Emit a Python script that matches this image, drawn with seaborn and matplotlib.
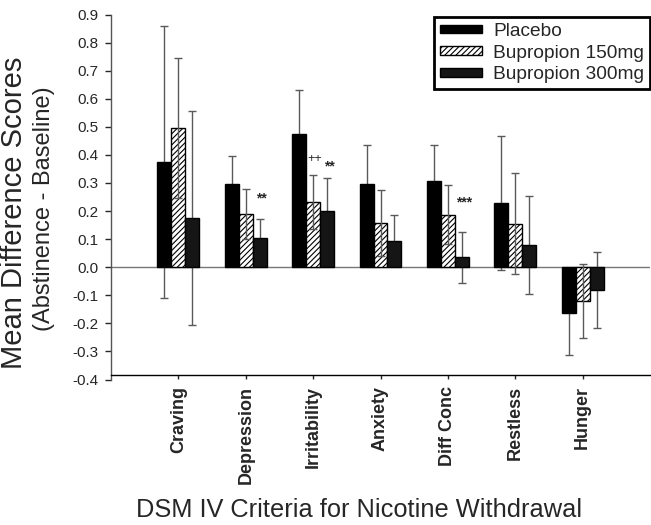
import numpy as np
import pandas as pd
import matplotlib
matplotlib.use('Agg')
import matplotlib.pyplot as plt
import seaborn as sns

# =============================
# Data
# =============================
categories = ['Craving', 'Depression', 'Irritability', 'Anxiety',
              'Diff Conc', 'Restless', 'Hunger']
groups = ['Placebo', 'Bupropion 150mg', 'Bupropion 300mg']

placebo = [0.375, 0.297, 0.475, 0.298, 0.308, 0.228, -0.162]
placebo_err = [0.485, 0.100, 0.157, 0.137, 0.127, 0.238, 0.150]
bup150 = [0.495, 0.190, 0.232, 0.157, 0.187, 0.155, -0.121]
bup150_err = [0.250, 0.090, 0.095, 0.118, 0.105, 0.180, 0.132]
bup300 = [0.175, 0.103, 0.200, 0.095, 0.035, 0.079, -0.082]
bup300_err = [0.380, 0.070, 0.118, 0.090, 0.090, 0.173, 0.135]

# significance marks: (category, group, label, y)
sig_cat = ['Depression', 'Irritability', 'Irritability', 'Diff Conc']
sig_group = ['Bupropion 300mg', 'Bupropion 150mg', 'Bupropion 300mg', 'Bupropion 300mg']
sig_label = ['**', '++', '**', '***']
sig_y = [0.22, 0.365, 0.335, 0.205]

df = pd.DataFrame({
    'criterion': categories * 3,
    'group': np.repeat(groups, len(categories)),
    'score': placebo + bup150 + bup300,
    'err': placebo_err + bup150_err + bup300_err,
})

# =============================
# Plot
# =============================
sns.set_style('white')
plt.rcParams['font.family'] = ['Liberation Sans', 'DejaVu Sans']
plt.rcParams['axes.unicode_minus'] = False
plt.rcParams['hatch.linewidth'] = 0.8

fig = plt.figure(figsize=(6.51, 5.25), dpi=100)
ax = fig.add_axes([111 / 651, 1 - 379.5 / 525, 539 / 651, 365 / 525])

palette = {'Placebo': '#000000', 'Bupropion 150mg': '#ffffff', 'Bupropion 300mg': '#151515'}
sns.barplot(data=df, x='criterion', y='score', hue='group', order=categories,
            hue_order=groups, palette=palette, errorbar=None, width=0.62,
            edgecolor='black', linewidth=1.0, ax=ax, saturation=1, zorder=2)

hatches = ['', '//////', '']
err_z = [1.5, 3, 1.5]   # hidden inside the dark bars, visible through the hatched one
bar_x = {}
for g, cont, h, z in zip(groups, ax.containers, hatches, err_z):
    sub = df[df['group'] == g].set_index('criterion').loc[categories]
    xs = [p.get_x() + p.get_width() / 2 for p in cont.patches]
    for p in cont.patches:
        p.set_hatch(h)
    for c, x in zip(categories, xs):
        bar_x[(c, g)] = x
    ax.errorbar(xs, sub['score'], yerr=sub['err'], fmt='none', ecolor='#5a5a5a',
                elinewidth=1.0, capsize=2.6, capthick=1.0, zorder=z)

for c, g, lab, y in zip(sig_cat, sig_group, sig_label, sig_y):
    plus = lab.startswith('+')
    ax.text(bar_x[(c, g)] + 0.03, y, lab, ha='center', va='bottom',
            fontsize=9 if plus else 10, fontweight='normal' if plus else 'bold')

ax.axhline(0, color='#777777', lw=1.0, zorder=1)

# spines first: set_position resets the tick labels
for s in ['top', 'right']:
    ax.spines[s].set_visible(False)
ax.spines['left'].set_color('#555555')
ax.spines['left'].set_linewidth(1.0)
ax.spines['bottom'].set_color('black')
ax.spines['bottom'].set_linewidth(1.0)
ax.spines['bottom'].set_position(('data', -0.383))

ax.set_xlim(-1, 7)
ax.set_ylim(-0.4, 0.9)
yt = np.round(np.arange(-0.4, 0.91, 0.1), 1)
ax.set_yticks(yt)
ax.set_yticklabels([f'{abs(v):.1f}' if v == 0 else f'{v:.1f}' for v in yt])
ax.tick_params(axis='y', direction='out', length=4, width=1, labelsize=11, pad=5, left=True)
ax.tick_params(axis='x', direction='out', length=3, width=1, pad=5, bottom=True)
ax.set_xticks(range(len(categories)))
ax.set_xticklabels(categories, rotation=90, fontsize=13, fontweight='bold', va='top')

ax.set_xlabel('')
ax.set_ylabel('')
fig.text(14 / 651, 1 - 213 / 525, 'Mean Difference Scores', rotation=90,
         ha='center', va='center', fontsize=21)
fig.text(44 / 651, 1 - 209 / 525, '(Abstinence - Baseline)', rotation=90,
         ha='center', va='center', fontsize=17)
fig.text(359.5 / 651, 1 - 510 / 525, 'DSM IV Criteria for Nicotine Withdrawal',
         ha='center', va='center', fontsize=18.3)

leg = ax.legend(loc='upper left', bbox_to_anchor=(434 / 651, 1 - 17 / 525),
                bbox_transform=fig.transFigure, borderaxespad=0, fontsize=13.8,
                handlelength=2.2, handleheight=0.3, handletextpad=0.6,
                labelspacing=0.25, borderpad=0.3, fancybox=False, framealpha=1)
leg.get_frame().set_edgecolor('black')
leg.get_frame().set_linewidth(2.0)
for h, hat in zip(leg.legend_handles, hatches):
    h.set_hatch(hat)

fig.savefig('out.png', dpi=100)
